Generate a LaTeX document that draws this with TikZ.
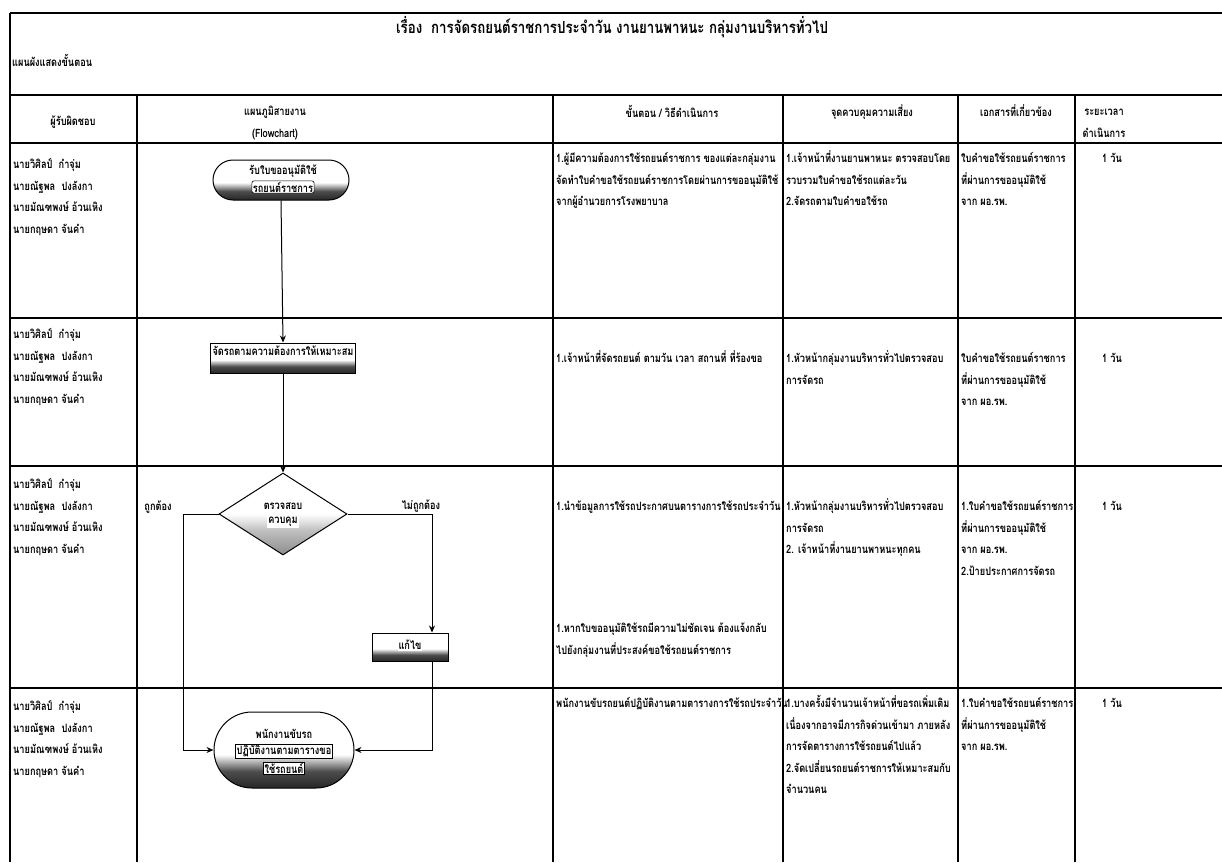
\documentclass[tikz,border=0pt]{standalone}
\usepackage{fontspec}
\setmainfont{Liberation Sans}
\newfontfamily\thaifont[Script=Thai,FakeStretch=0.8]{Loma}
\usetikzlibrary{shapes.geometric,shapes.misc,arrows.meta}
\newcommand\celltext{\thaifont\bfseries\fontsize{11.5}{21.5}\selectfont}
\newcommand\titletext{\thaifont\bfseries\fontsize{16.6}{21.5}\selectfont}
% dark lower part of the printed flowchart symbols
\pgfdeclareverticalshading{inkfill}{100bp}{color(0bp)=(black!85); color(25bp)=(black!85); color(36bp)=(black!70); color(47bp)=(white); color(100bp)=(white)}
\pgfdeclareverticalshading{inklight}{100bp}{color(0bp)=(black!45); color(25bp)=(black!45); color(40bp)=(black!25); color(50bp)=(white); color(100bp)=(white)}
\begin{document}
\begin{tikzpicture}[x=1pt,y=-1pt,
  rule/.style={line width=1.1pt},
  flowline/.style={line width=1pt},
  arr/.style={flowline,-{Stealth[length=7pt,width=6pt]}},
  % base anchor of a multi-line node is the baseline of its last line
  cell/.style={anchor=base west, align=left, inner sep=0pt, font=\celltext},
  head/.style={anchor=base, align=center, inner sep=0pt, font=\celltext},
  term/.style={rounded rectangle, draw, line width=1pt, shading=inkfill, inner sep=0pt},
  procbox/.style={rectangle, draw, line width=1pt, shading=inkfill, inner sep=0pt},
  decbox/.style={diamond, draw, line width=1pt, shading=inklight, inner sep=0pt},
  lbl/.style={fill=white, inner sep=1pt, font=\celltext, align=center},
  branch/.style={inner sep=0pt, font=\celltext}]
\useasboundingbox (0,0) rectangle (1222,862);
\fill[white] (0,0) rectangle (1222,862);

% frame and table rules
\draw[rule] (10,13) -- (1222,13);
\draw[rule] (10,13) -- (10,862);
\draw[rule] (10,95) -- (1222,95);
\draw[rule] (10,143) -- (1222,143);
\draw[rule] (10,318) -- (1222,318);
\draw[rule] (10,466) -- (1222,466);
\draw[rule] (10,688) -- (1222,688);
\foreach \cx in {137,553,783,958,1075}
  \draw[rule] (\cx,95) -- (\cx,862);

% title lines
\node[head, font=\titletext] (title) at (612,33) {เรื่อง\ \ การจัดรถยนต์ราชการประจำวัน งานยานพาหนะ กลุ่มงานบริหารทั่วไป};
\node[cell] (sub) at (12,66.5) {แผนผังแสดงขั้นตอน};

% header row
\node[head] (h1) at (73,125.5) {ผู้รับผิดชอบ};
\node[head] (h2) at (275,137) {แผนภูมิสายงาน\\(Flowchart)};
\node[head] (h3) at (672,117.5) {ขั้นตอน / วิธีดำเนินการ};
\node[head] (h4) at (872,116.5) {จุดควบคุมความเสี่ยง};
\node[head] (h5) at (1016,116.5) {เอกสารที่เกี่ยวข้อง};
\node[head] (h6) at (1104,137) {ระยะเวลา\\ดำเนินการ};

% responsible persons
\foreach \ry/\nm in {233/r1,403/r2,553/r3,775/r4}
  \node[cell] (names\nm) at (13,\ry) {นายวิศิลป์\ \ กำจุ่ม\\นายณัฐพล\ \ ปงลังกา\\นายมัณฑพงษ์ อ้วนเหิง\\นายกฤษดา จันคำ};

% steps
\node[cell] (s1) at (556,205.5) {1.ผู้มีความต้องการใช้รถยนต์ราชการ ของแต่ละกลุ่มงาน\\จัดทำใบคำขอใช้รถยนต์ราชการโดยผ่านการขออนุมัติใช้\\จากผู้อำนวยการโรงพยาบาล};
\node[cell] (s2) at (556,362.5) {1.เจ้าหน้าที่จัดรถยนต์ ตามวัน เวลา สถานที่ ที่ร้องขอ};
\node[cell] (s3) at (556,510.5) {1.นำข้อมูลการใช้รถประกาศบนตารางการใช้รถประจำวัน};
\node[cell] (s3b) at (556,654) {1.หากใบขออนุมัติใช้รถมีความไม่ชัดเจน ต้องแจ้งกลับ\\ไปยังกลุ่มงานที่ประสงค์ขอใช้รถยนต์ราชการ};
\node[cell] (s4) at (556,707.5) {พนักงานขับรถยนต์ปฏิบัติงานตามตารางการใช้รถประจำวัน};

% risk control points
\node[cell] (c1) at (786,205.5) {1.เจ้าหน้าที่งานยานพาหนะ ตรวจสอบโดย\\รวบรวมใบคำขอใช้รถแต่ละวัน\\2.จัดรถตามใบคำขอใช้รถ};
\node[cell] (c2) at (786,384) {1.หัวหน้ากลุ่มงานบริหารทั่วไปตรวจสอบ\\การจัดรถ};
\node[cell] (c3) at (786,553.5) {1.หัวหน้ากลุ่มงานบริหารทั่วไปตรวจสอบ\\การจัดรถ\\2. เจ้าหน้าที่งานยานพาหนะทุกคน};
\node[cell] (c4) at (786,793.5) {1.บางครั้งมีจำนวนเจ้าหน้าที่ขอรถเพิ่มเติม\\เนื่องจากอาจมีภารกิจด่วนเข้ามา ภายหลัง\\การจัดตารางการใช้รถยนต์ไปแล้ว\\2.จัดเปลี่ยนรถยนต์ราชการให้เหมาะสมกับ\\จำนวนคน};

% related documents
\begin{scope}
\clip (958,143) rectangle (1075,862);
\node[cell] (d1) at (961,205.5) {ใบคำขอใช้รถยนต์ราชการ\\ที่ผ่านการขออนุมัติใช้\\จาก ผอ.รพ.};
\node[cell] (d2) at (961,405.5) {ใบคำขอใช้รถยนต์ราชการ\\ที่ผ่านการขออนุมัติใช้\\จาก ผอ.รพ.};
\node[cell] (d3) at (961,575) {1.ใบคำขอใช้รถยนต์ราชการ\\ที่ผ่านการขออนุมัติใช้\\จาก ผอ.รพ.\\2.ป้ายประกาศการจัดรถ};
\node[cell] (d4) at (961,750.5) {1.ใบคำขอใช้รถยนต์ราชการ\\ที่ผ่านการขออนุมัติใช้\\จาก ผอ.รพ.};
\end{scope}

% duration
\foreach \ry/\nm in {162.5/t1,362.5/t2,510.5/t3,707.5/t4}
  \node[head] (dur\nm) at (1112,\ry) {1 วัน};

% flowchart symbols
\node[term, minimum width=136pt, minimum height=40pt] (start) at (281,180) {};
\node[lbl] at (283,171) {รับใบขออนุมัติใช้};
\node[lbl, draw, line width=0.6pt, rounded corners=2pt] at (283,187) {รถยนต์ราชการ};

\node[procbox, minimum width=145pt, minimum height=30pt] (arrange) at (283,358) {};
\node[lbl] at (283,351) {จัดรถตามความต้องการให้เหมาะสม};

\node[decbox, minimum width=128pt, minimum height=82pt] (check) at (283,514) {};
\node[lbl] at (283,506) {ตรวจสอบ};
\node[lbl] at (283,522) {ควบคุม};

\node[procbox, minimum width=76pt, minimum height=28pt] (fix) at (410,647) {};
\node[lbl] at (410,645) {แก้ไข};

\node[term, minimum width=140pt, minimum height=76pt] (drive) at (284,750) {};
\node[lbl] at (284,734) {พนักงานขับรถ};
\node[lbl, draw, line width=0.6pt] at (284,751) {ปฏิบัติงานตามตารางขอ};
\node[lbl, draw, line width=0.6pt] at (284,768) {ใช้รถยนต์};

% branch labels
\node[branch] (ok) at (158,507) {ถูกต้อง};
\node[branch] (notok) at (421,506) {ไม่ถูกต้อง};

% connectors
\coordinate (leftbend) at (183,514);
\coordinate (rightbend) at (432,514);
\draw[arr] (start.south) -- (arrange.north);
\draw[arr] (arrange.south) -- (check.north);
\draw[arr] (check.west) -- (leftbend) |- (drive.west);
\draw[arr] (check.east) -- (rightbend) -- (rightbend |- fix.north);
\draw[arr] (rightbend |- fix.south) |- (drive.east);
\end{tikzpicture}
\end{document}
